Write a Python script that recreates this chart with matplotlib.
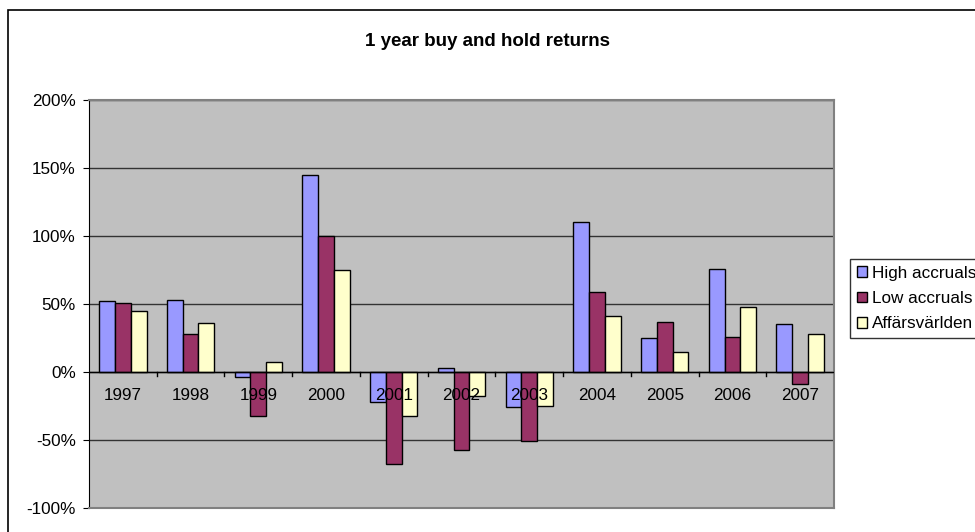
import numpy as np
import matplotlib
matplotlib.use("Agg")
import matplotlib.pyplot as plt
from matplotlib.patches import Rectangle
from matplotlib.ticker import FuncFormatter

plt.rcParams['font.family'] = ['Liberation Sans', 'DejaVu Sans']

years = ["1997", "1998", "1999", "2000", "2001", "2002", "2003", "2004", "2005", "2006", "2007"]
high_accruals = [52, 53, -4, 145, -22, 3, -26, 110, 25, 76, 35]
low_accruals = [51, 28, -32, 100, -68, -57, -51, 59, 37, 26, -9]
affarsvarlden = [45, 36, 7, 75, -32, -18, -25, 41, 15, 48, 28]

series = [("High accruals", high_accruals, "#9999FF"),
          ("Low accruals", low_accruals, "#993366"),
          ("Affärsvärlden", affarsvarlden, "#FFFFCC")]

fig = plt.figure(figsize=(9.75, 5.32), dpi=100)
# outer chart border (only top/left visible in the reference)
fig.patches.append(Rectangle((8 / 975, -0.1), 1.1, (532 - 10) / 532 + 0.1,
                             transform=fig.transFigure, fill=False,
                             edgecolor="black", linewidth=1.2))

ax = fig.add_axes([89 / 975, (532 - 508) / 532, (834 - 89) / 975, (508 - 100) / 532])
ax.set_facecolor("#C0C0C0")

x = np.arange(len(years))
w = 0.233
for i, (name, vals, col) in enumerate(series):
    ax.bar(x + (i - 1) * w, vals, w, color=col, edgecolor="black",
           linewidth=1.0, label=name, zorder=3)

ax.set_xlim(-0.5, len(years) - 0.5)
ax.set_ylim(-100, 200)
ax.set_yticks(np.arange(-100, 201, 50))
ax.yaxis.set_major_formatter(FuncFormatter(lambda v, p: f"{v:.0f}%"))
ax.yaxis.grid(True, color="#333333", linewidth=1.0, zorder=1)
ax.set_axisbelow(True)

# x axis at zero: ticks at category boundaries, labels below zero line
ax.axhline(0, color="black", linewidth=1.0, zorder=4)
ax.set_xticks([])
for b in np.arange(0.5, len(years) - 0.5, 1.0):
    ax.plot([b, b], [0, -3], color="black", linewidth=1.0, zorder=4)
for xi, yr in zip(x, years):
    ax.text(xi, -17, yr, ha="center", va="center", fontsize=12.3, zorder=5)

ax.tick_params(axis="y", length=4.5, labelsize=12.3, pad=5)
for s in ["top", "right", "bottom"]:
    ax.spines[s].set_color("#808080")
    ax.spines[s].set_linewidth(1.5)
ax.spines["left"].set_color("black")

fig.text(0.5, 1 - 41 / 532, "1 year buy and hold returns", ha="center", va="center",
         fontsize=13.5, fontweight="bold")

# legend runs off the right edge, as in the original
leg = fig.legend(loc="upper left", bbox_to_anchor=(850 / 975, 1 - 259 / 532),
                 frameon=True, fancybox=False, edgecolor="black", fontsize=12.3,
                 handlelength=0.6, handleheight=0.6, handletextpad=0.3,
                 labelspacing=0.6, borderpad=0.4, borderaxespad=0)
leg.get_frame().set_linewidth(1.0)

fig.savefig("out.png", dpi=100)
